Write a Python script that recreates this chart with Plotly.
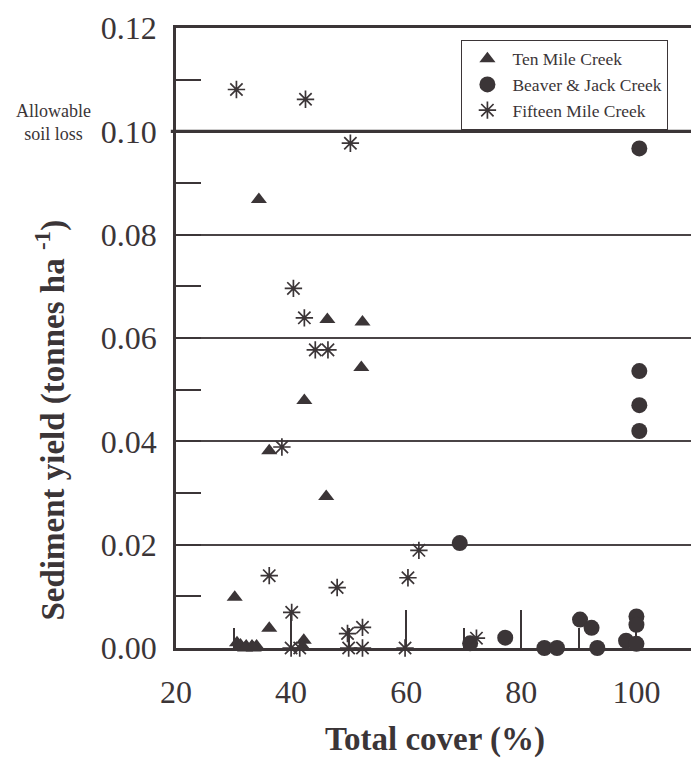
import plotly.graph_objects as go

# ---- data ----
ten_x = [34.4, 46.3, 52.4, 52.2, 42.3, 36.2, 46.1, 30.2, 36.2, 42.2, 42.0,
         30.6, 31.2, 32.2, 33.2, 34.0, 32.0, 33.5]
ten_y = [0.0868, 0.0636, 0.0631, 0.0543, 0.0479, 0.0382, 0.0293, 0.0098, 0.0038, 0.0015, 0.0003,
         0.0010, 0.0006, 0.0004, 0.0004, 0.0004, 0.0, 0.0]

beaver_x = [100.5, 100.5, 100.5, 100.5, 69.3, 90.2, 92.2, 100.0, 100.0, 77.2, 98.2, 71.1,
            100.0, 84.0, 86.2, 93.2]
beaver_y = [0.0967, 0.0536, 0.0470, 0.0420, 0.0203, 0.0055, 0.0039, 0.0061, 0.0045, 0.0020, 0.0014, 0.0009,
            0.0008, 0.0, 0.0, 0.0]

fifteen_x = [30.5, 42.5, 50.3, 40.4, 42.3, 44.2, 46.4, 38.4, 62.2, 36.2, 60.3, 48.0, 40.1,
             52.4, 49.8, 72.2, 40.0, 41.5, 50.0, 52.4, 59.8]
fifteen_y = [0.1081, 0.1062, 0.0977, 0.0696, 0.0639, 0.0577, 0.0577, 0.0389, 0.0189, 0.0140, 0.0136,
             0.0117, 0.0069, 0.0040, 0.0028, 0.0019, 0.0, 0.0, 0.0, 0.0, 0.0]

series_names = ["Ten Mile Creek", "Beaver & Jack Creek", "Fifteen Mile Creek"]
x_ticks = [20, 40, 60, 80, 100]
y_ticks = [0.00, 0.02, 0.04, 0.06, 0.08, 0.10, 0.12]
ALLOWABLE = 0.10

INK = "#3b3537"
FONT = "Liberation Serif"

fig = go.Figure()
fig.add_trace(go.Scatter(
    x=ten_x, y=ten_y, mode="markers", name=series_names[0], cliponaxis=False,
    marker=dict(symbol="triangle-up", size=14, color=INK, line=dict(width=0)),
))
fig.add_trace(go.Scatter(
    x=beaver_x, y=beaver_y, mode="markers", name=series_names[1], cliponaxis=False,
    marker=dict(symbol="circle", size=16, color=INK, line=dict(width=0)),
))
fig.add_trace(go.Scatter(
    x=fifteen_x, y=fifteen_y, mode="markers", name=series_names[2], cliponaxis=False,
    marker=dict(symbol="asterisk-open", size=14.5, color=INK, line=dict(width=1.7, color=INK)),
))

# thicker allowable soil loss line
fig.add_shape(type="line", xref="paper", yref="y", x0=-0.01, x1=1, y0=ALLOWABLE, y1=ALLOWABLE,
              line=dict(color=INK, width=3.2), layer="above")

# the page body keeps an 8px default margin, so the figure is sized to leave room for it
fig.update_layout(
    width=691, height=762,
    margin=dict(l=168, r=2, t=15, b=122),
    paper_bgcolor="white", plot_bgcolor="white",
    font=dict(family=FONT, color=INK),
    showlegend=True,
    legend=dict(
        x=0.551, y=0.981, xanchor="left", yanchor="top",
        bordercolor=INK, borderwidth=1, bgcolor="white",
        font=dict(family=FONT, size=17.5, color=INK),
        itemwidth=40, tracegroupgap=0,
    ),
    annotations=[
        dict(text="Allowable<br>soil loss", xref="paper", yref="paper", x=-0.161, y=0.848,
             xanchor="right", yanchor="middle", showarrow=False, align="center",
             font=dict(family=FONT, size=18, color=INK)),
        dict(text="<b>Total cover (%)</b>", xref="paper", yref="paper", x=0.5, y=-0.147,
             xanchor="center", yanchor="middle", showarrow=False,
             font=dict(family=FONT, size=33, color=INK)),
        dict(text="<b>Sediment yield (tonnes ha <sup>-1</sup>)</b>", xref="paper", yref="paper",
             x=-0.242, y=0.368, xanchor="center", yanchor="middle", showarrow=False, textangle=-90,
             font=dict(family=FONT, size=33, color=INK)),
    ],
)

fig.update_xaxes(
    range=[20, 110], tickvals=x_ticks, ticktext=[str(v) for v in x_ticks],
    ticks="inside", ticklen=38, tickwidth=2, tickcolor=INK,
    minor=dict(ticks="inside", ticklen=20, tickwidth=2, tickcolor=INK, dtick=10, tick0=20, showgrid=False),
    showline=True, linewidth=2.5, linecolor=INK, mirror=True,
    showgrid=False, zeroline=False, ticklabeloverflow="allow",
    tickfont=dict(family=FONT, size=32, color=INK), ticklabelstandoff=14,
)
fig.update_yaxes(
    range=[0, 0.12], tickvals=y_ticks, ticktext=["%.2f" % v for v in y_ticks],
    ticks="inside", ticklen=25, tickwidth=2, tickcolor=INK,
    minor=dict(ticks="inside", ticklen=25, tickwidth=2, tickcolor=INK, dtick=0.01, tick0=0, showgrid=False),
    showline=True, linewidth=2.5, linecolor=INK, mirror=True,
    showgrid=True, gridcolor="#4a4446", gridwidth=1.8, zeroline=False, ticklabeloverflow="allow",
    tickfont=dict(family=FONT, size=32, color=INK), ticklabelstandoff=10,
)

fig.write_html("out.html")
